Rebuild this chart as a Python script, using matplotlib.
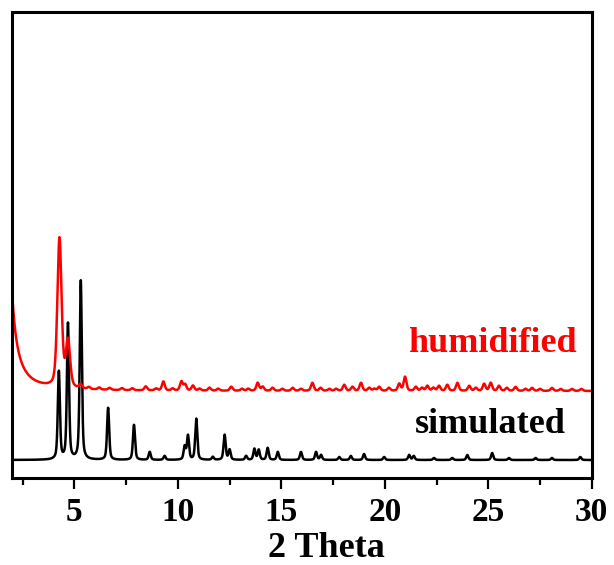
import numpy as np
import matplotlib
matplotlib.use("Agg")
import matplotlib.pyplot as plt
from matplotlib.ticker import MultipleLocator

# ---------------- data ----------------
# simulated pattern: peak positions (2 theta) and heights (arb. units)
sim_pos = [4.25, 4.69, 5.31, 6.63, 7.88, 8.64, 9.36, 10.33, 10.49, 10.89,
           11.69, 12.26, 12.50, 13.30, 13.70, 13.91, 14.34, 14.83, 15.95,
           16.68, 16.92, 17.80, 18.36, 19.00, 19.97, 21.18, 21.40, 22.38,
           23.26, 23.99, 25.19, 26.00, 27.29, 28.08, 29.45]
sim_height = [88, 136, 179, 52, 35, 8, 4, 13, 24, 41,
              3, 25, 10, 4, 11, 10, 12, 8, 8,
              8, 5, 3, 4, 6, 3, 5, 4, 2,
              2, 5, 7, 2, 2, 2, 3]
sim_baseline = 18

# humidified pattern
hum_pos = [4.28, 4.69, 5.30, 5.70, 6.20, 6.70, 7.30, 7.80, 8.45, 8.95,
           9.30, 9.75, 10.17, 10.35, 10.73, 11.05, 11.53, 11.95, 12.58, 13.10,
           13.40, 13.86, 14.10, 14.58, 15.05, 15.55, 15.95, 16.50, 16.90, 17.32,
           17.65, 18.04, 18.44, 18.85, 19.25, 19.50, 19.73, 20.20, 20.70, 20.98,
           21.50, 21.80, 22.06, 22.35, 22.62, 23.02, 23.51, 24.08, 24.40, 24.80,
           25.12, 25.52, 25.90, 26.32, 26.80, 27.12, 27.50, 28.08, 28.50, 29.05,
           29.50]
hum_height = [149, 46, 4, 2, 2, 2, 2, 2, 4, 2,
              9, 2, 9, 6, 5, 2, 3, 2, 4, 2,
              2, 8, 4, 3, 2, 3, 2, 8, 3, 2,
              2, 6, 4, 8, 3, 2, 4, 3, 7, 14,
              4, 3, 5, 3, 5, 6, 8, 5, 3, 7,
              8, 5, 3, 4, 2, 3, 2, 3, 2, 2,
              2]
hum_baseline = 87
# low-angle scattering rise of the humidified sample
hum_low_center, hum_low_height, hum_low_hwhm = 1.5, 1102, 0.154

x_ticks = [5, 10, 15, 20, 25, 30]
label_sim = "simulated"
label_hum = "humidified"
x_label = "2 Theta"


def pv(x, c, h, fwhm, eta=0.5):
    g = fwhm / 2.0
    lor = g**2 / ((x - c)**2 + g**2)
    gau = np.exp(-np.log(2) * ((x - c) / g)**2)
    return h * (eta * lor + (1 - eta) * gau)


x = np.linspace(2, 30, 4001)
y_sim = np.full_like(x, sim_baseline, dtype=float)
for c, h in zip(sim_pos, sim_height):
    y_sim += pv(x, c, h, 0.12, 0.5)

y_hum = np.full_like(x, hum_baseline, dtype=float)
y_hum += pv(x, hum_low_center, hum_low_height, 2 * hum_low_hwhm, 1.0)
for i, (c, h) in enumerate(zip(hum_pos, hum_height)):
    w = 0.24 if i < 2 else 0.16
    y_hum += pv(x, c, h, w, 0.4)

# ---------------- figure ----------------
plt.rcParams['font.family'] = ['Liberation Serif', 'DejaVu Serif']
plt.rcParams['font.weight'] = 'bold'

fig = plt.figure(figsize=(6.14, 5.65), dpi=100)
ax = fig.add_axes([12.3 / 614, 87 / 565, 579.4 / 614, 466 / 565])

ax.plot(x, y_sim, color='black', lw=1.8)
ax.plot(x, y_hum, color='#ff0000', lw=1.8)

ax.set_xlim(2, 30)
ax.set_ylim(0, 466)
ax.set_yticks([])
ax.xaxis.set_major_locator(MultipleLocator(5))
ax.xaxis.set_minor_locator(MultipleLocator(2.5))
ax.set_xticks(x_ticks)
ax.set_xticklabels([str(t) for t in x_ticks], fontsize=24, fontweight='bold')
ax.tick_params(axis='x', which='major', direction='out', length=8, width=1.6, pad=6)
ax.tick_params(axis='x', which='minor', direction='out', length=5, width=1.6)
for s in ax.spines.values():
    s.set_linewidth(2.2)

fig.text(326 / 614, (565 - 557) / 565, x_label, fontsize=26, fontweight='bold',
         ha='center', va='baseline')

ax.text(29.28, 126, label_hum, color='#ff0000', fontsize=26, fontweight='bold',
        ha='right', va='baseline')
ax.text(28.75, 45, label_sim, color='black', fontsize=26, fontweight='bold',
        ha='right', va='baseline')

fig.savefig("out.png", dpi=100)
